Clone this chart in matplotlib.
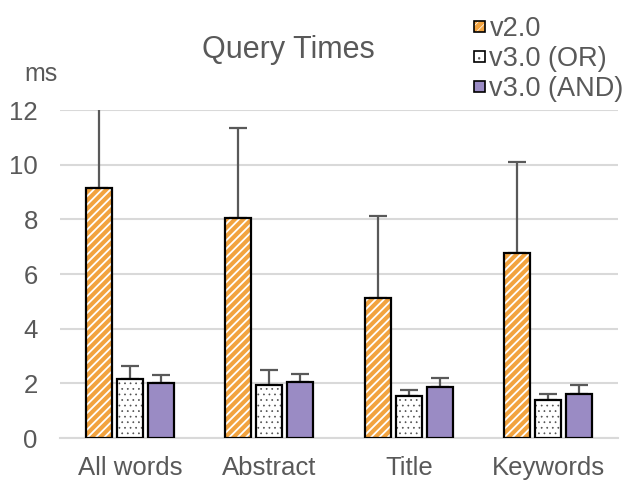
import matplotlib
matplotlib.use('Agg')
import matplotlib.pyplot as plt
import numpy as np
from matplotlib.patches import Patch
from matplotlib.legend_handler import HandlerTuple

categories = ['All words', 'Abstract', 'Title', 'Keywords']
series = ['v2.0', 'v3.0 (OR)', 'v3.0 (AND)']
v20 = [9.15, 8.05, 5.13, 6.78]
v20_err = [3.4, 3.3, 3.0, 3.32]
or30 = [2.16, 1.95, 1.52, 1.39]
or30_err = [0.46, 0.55, 0.25, 0.22]
and30 = [2.02, 2.05, 1.88, 1.62]
and30_err = [0.3, 0.3, 0.32, 0.32]

orange = '#F2A33F'
purple = '#9A8BC4'
grey = '#595959'

plt.rcParams['font.family'] = ['Liberation Sans', 'DejaVu Sans']

fig = plt.figure(figsize=(6.25, 4.82), dpi=100)
ax = fig.add_axes([60 / 625, 44 / 482, 558 / 625, 328 / 482])

x = np.arange(len(categories))
w = 0.185
off = 0.222

# hatch linewidth is picked up when the patch is created
plt.rcParams['hatch.linewidth'] = 1.3
ax.bar(x - off, v20, w, color=orange, edgecolor='white', hatch='////', lw=0, zorder=3)
h1a = Patch(facecolor=orange, edgecolor='white', hatch='////', lw=0)
plt.rcParams['hatch.linewidth'] = 0.5
ax.bar(x, or30, w, color='white', edgecolor='#505050', hatch='...', lw=0, zorder=3)
h2a = Patch(facecolor='white', edgecolor='#505050', hatch='..', lw=0)

ax.bar(x - off, v20, w, color='none', edgecolor='black', lw=1.6, zorder=4)
ax.bar(x, or30, w, color='none', edgecolor='black', lw=1.6, zorder=4)
ax.bar(x + off, and30, w, color=purple, edgecolor='black', lw=1.6, zorder=3)

for xs, ys, es in [(x - off, v20, v20_err), (x, or30, or30_err), (x + off, and30, and30_err)]:
    ax.errorbar(xs, ys, yerr=[np.zeros(len(es)), es], fmt='none', ecolor=grey,
                elinewidth=1.6, capsize=6.5, capthick=1.6, zorder=2)

ax.set_xlim(-0.5, 3.5)
ax.set_ylim(0, 12)
ax.set_yticks(range(0, 13, 2))
ax.set_xticks(x)
ax.set_xticklabels(categories)
ax.tick_params(length=0, labelsize=18.5, colors=grey)
ax.xaxis.set_tick_params(pad=13)
ax.yaxis.set_tick_params(pad=16)
ax.grid(axis='y', color='#d9d9d9', lw=1.5, zorder=0)
for s in ['top', 'right', 'left']:
    ax.spines[s].set_visible(False)
ax.spines['bottom'].set_color('#d9d9d9')
ax.spines['bottom'].set_linewidth(1.5)
ax.set_axisbelow(True)

fig.text(288 / 625, 1 - 50 / 482, 'Query Times', ha='center', va='center',
         fontsize=22, color=grey)
fig.text(41 / 625, 1 - 74 / 482, 'ms', ha='center', va='center',
         fontsize=18, color=grey)

h1 = (h1a, Patch(facecolor='none', edgecolor='black', lw=1.2))
h2 = (h2a, Patch(facecolor='none', edgecolor='black', lw=1.2))
h3 = Patch(facecolor=purple, edgecolor='black', lw=1.2)
leg = fig.legend([h1, h2, h3], series, loc='upper left',
                 bbox_to_anchor=(474 / 625, 1 - 16 / 482),
                 handler_map={tuple: HandlerTuple(ndivide=1, pad=0)},
                 frameon=False, fontsize=19.5, handlelength=0.42, handleheight=0.25,
                 handletextpad=0.15, labelspacing=0.15, borderaxespad=0, borderpad=0)
for t in leg.get_texts():
    t.set_color(grey)

fig.savefig('out.png', dpi=100)
